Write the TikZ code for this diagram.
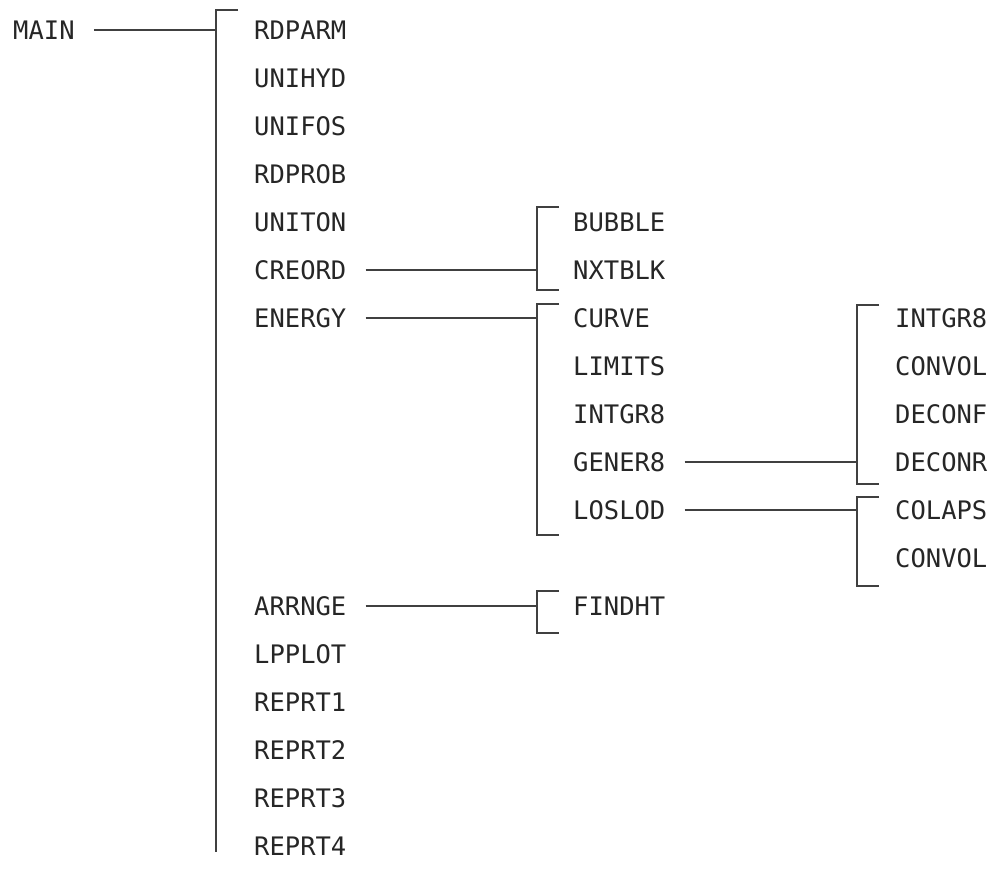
\documentclass[tikz,border=0pt]{standalone}
\usepackage{fontspec}
\setmonofont{DejaVu Sans Mono}
\begin{document}
\begin{tikzpicture}[x=1pt,y=-1pt,
  lbl/.style={font=\fontsize{25.5}{26}\selectfont\ttfamily, text=black!85, anchor=west,
              inner sep=0pt, text height=18.6pt, text depth=0pt},
  wire/.style={draw=black!75, line width=1.3pt},
  lead/.style={wire, shorten <=19pt}]
\useasboundingbox (0,0) rectangle (996,873);
% column 0
\node[lbl] (main) at (13,30) {MAIN};
% column 1
\node[lbl] (rdparm) at (254,30)  {RDPARM};
\node[lbl] (unihyd) at (254,78)  {UNIHYD};
\node[lbl] (unifos) at (254,126) {UNIFOS};
\node[lbl] (rdprob) at (254,174) {RDPROB};
\node[lbl] (uniton) at (254,222) {UNITON};
\node[lbl] (creord) at (254,270) {CREORD};
\node[lbl] (energy) at (254,318) {ENERGY};
\node[lbl] (arrnge) at (254,606) {ARRNGE};
\node[lbl] (lpplot) at (254,654) {LPPLOT};
\node[lbl] (reprt1) at (254,702) {REPRT1};
\node[lbl] (reprt2) at (254,750) {REPRT2};
\node[lbl] (reprt3) at (254,798) {REPRT3};
\node[lbl] (reprt4) at (254,846) {REPRT4};
% column 2
\node[lbl] (bubble) at (573,222) {BUBBLE};
\node[lbl] (nxtblk) at (573,270) {NXTBLK};
\node[lbl] (curve)  at (573,318) {CURVE};
\node[lbl] (limits) at (573,366) {LIMITS};
\node[lbl] (intgra) at (573,414) {INTGR8};
\node[lbl] (gener8) at (573,462) {GENER8};
\node[lbl] (loslod) at (573,510) {LOSLOD};
\node[lbl] (findht) at (573,606) {FINDHT};
% column 3
\node[lbl] (intgrb) at (895,318) {INTGR8};
\node[lbl] (convola) at (895,366) {CONVOL};
\node[lbl] (deconf) at (895,414) {DECONF};
\node[lbl] (deconr) at (895,462) {DECONR};
\node[lbl] (colaps) at (895,510) {COLAPS};
\node[lbl] (convolb) at (895,558) {CONVOL};
% bracket junctions
\coordinate (jmain) at (216,30);
\coordinate (jcre)  at (537,270);
\coordinate (jene)  at (537,318);
\coordinate (jarr)  at (537,606);
\coordinate (jgen)  at (857,462);
\coordinate (jlos)  at (857,510);
% brackets
\draw[wire] (238,10) -- (216,10) -- (216,852);
\draw[wire] (559,207) -- (537,207) -- (537,290) -- (559,290);
\draw[wire] (559,304) -- (537,304) -- (537,535) -- (559,535);
\draw[wire] (559,591) -- (537,591) -- (537,633) -- (559,633);
\draw[wire] (879,305) -- (857,305) -- (857,484) -- (879,484);
\draw[wire] (879,497) -- (857,497) -- (857,586) -- (879,586);
% connectors
\draw[lead] (main.east)   -- (jmain);
\draw[lead] (creord.east) -- (jcre);
\draw[lead] (energy.east) -- (jene);
\draw[lead] (arrnge.east) -- (jarr);
\draw[lead] (gener8.east) -- (jgen);
\draw[lead] (loslod.east) -- (jlos);
\end{tikzpicture}
\end{document}
